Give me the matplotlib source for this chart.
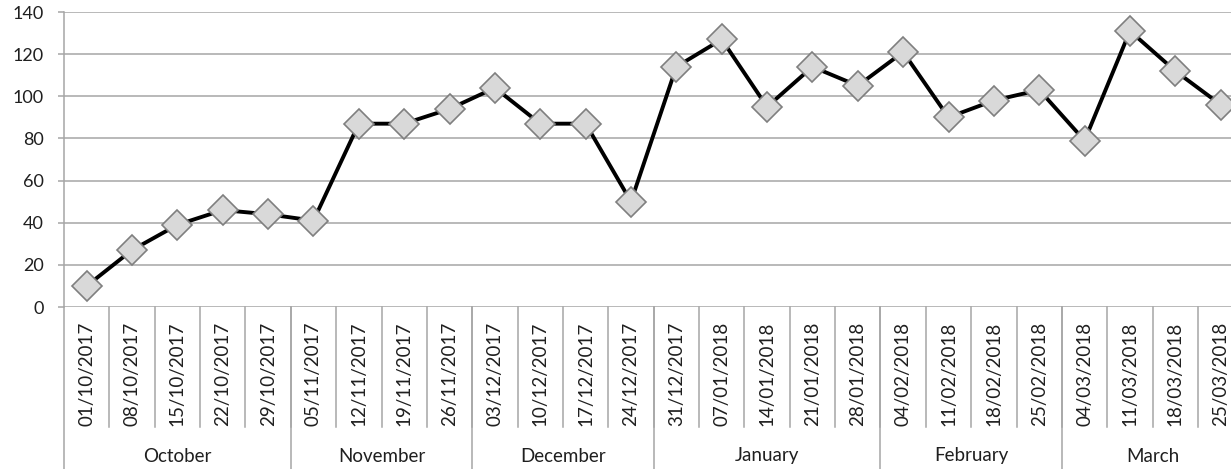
import matplotlib.pyplot as plt

# weekly values, Oct 2017 - Mar 2018
dates = ['01/10/2017', '08/10/2017', '15/10/2017', '22/10/2017', '29/10/2017',
         '05/11/2017', '12/11/2017', '19/11/2017', '26/11/2017',
         '03/12/2017', '10/12/2017', '17/12/2017', '24/12/2017',
         '31/12/2017', '07/01/2018', '14/01/2018', '21/01/2018', '28/01/2018',
         '04/02/2018', '11/02/2018', '18/02/2018', '25/02/2018',
         '04/03/2018', '11/03/2018', '18/03/2018', '25/03/2018']
values = [10, 27, 39, 46, 44,
          41, 87, 87, 94,
          104, 87, 87, 50,
          114, 127, 95, 114, 105,
          121, 90, 98, 103,
          79, 131, 112, 96]
months = ['October', 'November', 'December', 'January', 'February', 'March']
month_counts = [5, 4, 4, 5, 4, 4]

W, H = 1231, 469
fig = plt.figure(figsize=(W / 100, H / 100), dpi=100)
plt.rcParams['font.family'] = ['Lato', 'DejaVu Sans']

# axes box in pixels (plot runs off the right edge like the original)
left, top, bottom = 64, 12, 307
ax = fig.add_axes([left / W, (H - bottom) / H, (W - left) / W, (bottom - top) / H])
ax_h = bottom - top

grid_col = '#a6a6a6'
txt_col = '#1f1f1f'
lw_grid = 1.1

x = list(range(len(values)))
ax.plot(x, values, color='black', lw=2.8, marker='D', markersize=15,
        markerfacecolor='#d9d9d9', markeredgecolor='#7f7f7f', markeredgewidth=1.2,
        zorder=3)

ax.set_ylim(0, 140)
ax.set_yticks(range(0, 141, 20))
ax.set_xlim(-0.5, -0.5 + (W - left) / 45.36)
ax.set_xticks([])
ax.yaxis.grid(True, color=grid_col, lw=lw_grid)
ax.set_axisbelow(True)
for s in ['top', 'right', 'bottom']:
    ax.spines[s].set_visible(False)
ax.spines['left'].set_color(grid_col)
ax.spines['left'].set_linewidth(lw_grid)
ax.tick_params(axis='y', length=4.5, width=lw_grid, color=grid_col, labelsize=13,
               labelcolor=txt_col, pad=10)

trans = ax.get_xaxis_transform()

# date labels and short separators
y_sep = -(427 - bottom) / ax_h
y_date = -(322 - bottom) / ax_h
for i, d in enumerate(dates):
    ax.text(i, y_date, d, rotation=90, ha='center', va='top', fontsize=13.5,
            color=txt_col, transform=trans, clip_on=False)
    ax.plot([i + 0.5, i + 0.5], [0, y_sep], color=grid_col, lw=lw_grid,
            transform=trans, clip_on=False)

# month groups
y_month = -(456 - bottom) / ax_h
y_end = -(H - bottom + 2) / ax_h
start = 0
ax.plot([-0.5, -0.5], [0, y_end], color=grid_col, lw=lw_grid, transform=trans, clip_on=False)
for m, n in zip(months, month_counts):
    ax.text(start + (n - 1) / 2, y_month, m, ha='center', va='center', fontsize=13.5,
            color=txt_col, transform=trans, clip_on=False)
    start += n
    ax.plot([start - 0.5, start - 0.5], [0, y_end], color=grid_col, lw=lw_grid,
            transform=trans, clip_on=False)

fig.savefig('out.png', dpi=100)
